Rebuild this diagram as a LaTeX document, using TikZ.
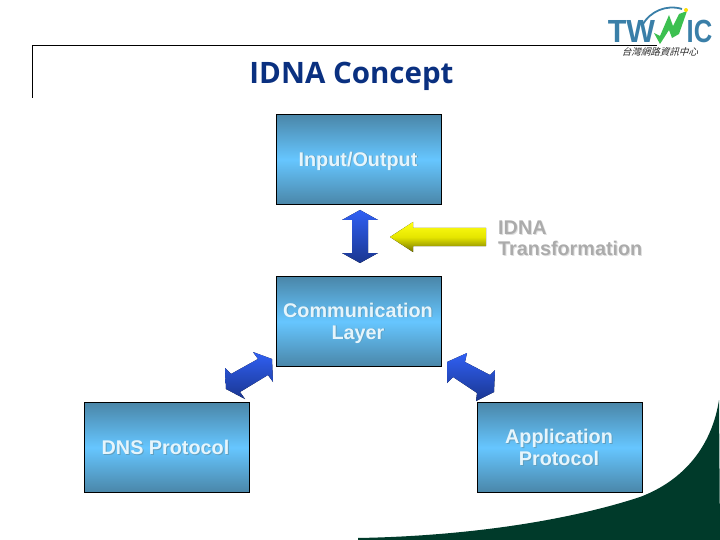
\documentclass[tikz,border=0pt]{standalone}
\usepackage{fontspec}
\setmainfont{Liberation Sans}
\newfontfamily\titlefont{Open Sans}
\newfontfamily\cjkfont{Noto Sans CJK TC}
\definecolor{boxedge}{HTML}{4A86A8}
\definecolor{boxmid}{HTML}{66C6FF}
\definecolor{navy}{HTML}{0A3080}
\definecolor{swoosh}{HTML}{003A2A}
\definecolor{logoblue}{HTML}{3A7FA8}
\definecolor{logogreen}{HTML}{3CC050}
\definecolor{boxtext}{HTML}{E6F5FC}
\definecolor{boxshadow}{HTML}{5F9FC0}
\definecolor{greytext}{HTML}{ABABAB}
\definecolor{greyshadow}{HTML}{DEDEDE}
\definecolor{arrowtop}{HTML}{3060F4}
\definecolor{arrowbot}{HTML}{1A3690}
\tikzset{
  layerbox/.style={draw=black,line width=1pt,top color=boxedge,bottom color=boxedge,middle color=boxmid,minimum width=165pt,minimum height=90pt,inner sep=0pt,anchor=north west},
  boxlabel/.style={text=boxtext,font=\bfseries\fontsize{19.8}{22}\selectfont,align=center},
  boxlabelshadow/.style={text=boxshadow,font=\bfseries\fontsize{19.8}{22}\selectfont,align=center},
  bluearrow/.style={top color=arrowtop,bottom color=arrowbot,shading angle=0},
  logotext/.style={text=logoblue,font=\bfseries\fontsize{32}{32}\selectfont,inner sep=0pt}
}
\begin{document}
\begin{tikzpicture}[x=1pt,y=-1pt]
\useasboundingbox (0,0) rectangle (720,540);
% swoosh
\fill[swoosh] (358,540) -- (358,538) .. controls (470,536) and (570,520) .. (640,497)
  .. controls (685,480) and (712,445) .. (719,400) -- (720,540) -- cycle;
% header rule
\draw[line width=1pt] (32.5,98) -- (32.5,45.5) -- (657,45.5);
\node[text=navy,font=\titlefont\bfseries\fontsize{29.5}{30}\selectfont,inner sep=0pt] (title) at (351.5,76) {IDNA Concept};
% logo
\node[logotext,xscale=0.95] (logoTW) at (631.5,31) {TW};
\node[logotext,xscale=0.8] (logoIC) at (699.5,31) {IC};
\draw[line width=1.8pt,logoblue] (643,24) .. controls (650,12) and (666,4) .. (682,9);
\fill[logogreen] (654,33) -- (660,44) -- (669,30) -- (672,38) -- (679,34) -- (687,11) -- (679,14) -- (673,26) -- (669,15) -- (660,36) -- cycle;
\fill[yellow!80!orange] (686,10) circle (2pt);
\node[font=\cjkfont\fontsize{9.5}{10}\selectfont,xslant=0.3,inner sep=0pt,text=black!85] (logocn) at (661,52) {台灣網路資訊中心};
% boxes
\node[layerbox] (io) at (276,114) {};
\node[layerbox] (comm) at (276,276) {};
\node[layerbox] (dns) at (83.5,402) {};
\node[layerbox] (app) at (477,402) {};
\node[boxlabelshadow] (ioS) at ([shift={(0,2)}]io.center) {Input/Output};
\node[boxlabel] (ioT) at ([shift={(-1,1.5)}]io.center) {Input/Output};
\node[boxlabelshadow] (commS) at ([shift={(0,2)}]comm.center) {Communication\\Layer};
\node[boxlabel] (commT) at ([shift={(-1,1.5)}]comm.center) {Communication\\Layer};
\node[boxlabelshadow] (dnsS) at ([shift={(0,0.5)}]dns.center) {DNS Protocol};
\node[boxlabel] (dnsT) at ([shift={(-1,0)}]dns.center) {DNS Protocol};
\node[boxlabelshadow] (appS) at ([shift={(0,0.5)}]app.center) {Application\\Protocol};
\node[boxlabel] (appT) at ([shift={(-1,0)}]app.center) {Application\\Protocol};
% arrows
\fill[bluearrow] (360,210) -- (378,220) -- (368,220) -- (368,253) -- (378,253) -- (360,263) -- (342,253) -- (352,253) -- (352,220) -- (342,220) -- cycle;
\fill[top color=yellow!92!white,bottom color=yellow!45!black,middle color=yellow!90!black] (390,237) -- (413,222) -- (413,228) -- (486,228) -- (486,246) -- (413,246) -- (413,252) -- cycle;
\fill[bluearrow] (272,359) -- (253,352) -- (258,359) -- (231,374) -- (225,368) -- (226,389) -- (245,399) -- (240,392) -- (268,375) -- (273,382) -- cycle;
\fill[bluearrow] (447,362) -- (467,353) -- (465,362) -- (490,375) -- (495,370) -- (494,392) -- (476,401) -- (477,393) -- (453,377) -- (447,383) -- cycle;
% side label
\node[text=greyshadow,font=\bfseries\fontsize{19.8}{21}\selectfont,align=left,anchor=north west,inner sep=0pt] (idnaS) at (499,222) {IDNA\\Transformation};
\node[text=greytext,font=\bfseries\fontsize{19.8}{21}\selectfont,align=left,anchor=north west,inner sep=0pt] (idna) at (498,221) {IDNA\\Transformation};
\end{tikzpicture}
\end{document}
